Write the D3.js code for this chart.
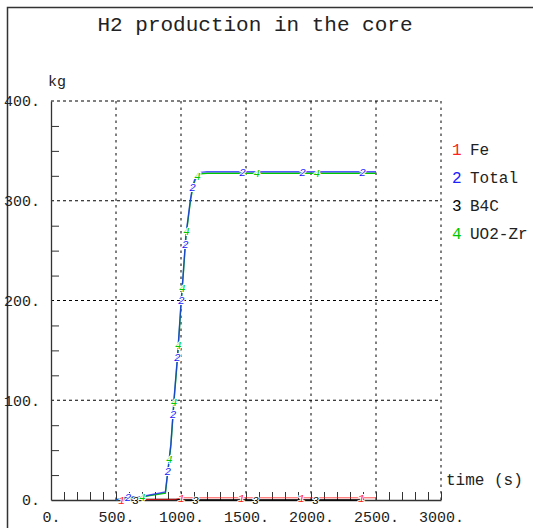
<!DOCTYPE html>
<html>
<head>
<meta charset="utf-8">
<script src="https://cdn.jsdelivr.net/npm/d3@7"></script>
<style>
  body { margin: 0; background: #fff; }
  svg { display: block; }
  text { font-family: "Liberation Mono", "DejaVu Sans Mono", monospace; }
</style>
</head>
<body>
<div id="chart"></div>
<script>
// values
const xTicks = [0, 500, 1000, 1500, 2000, 2500, 3000];
const yTicks = [0, 100, 200, 300, 400];

const feTime = [500, 700, 960, 1000, 2500];
const feVal = [0, 0.5, 0.7, 2.2, 2.2];

const totalTime = [500, 560, 700, 760, 880, 922, 948, 973, 1002, 1012, 1038, 1072, 1090, 1110, 1130, 1150, 1200, 2500];
const totalVal = [0, 2.5, 3.5, 5, 8, 56, 104, 144, 201, 218, 266, 301, 315, 323, 327, 328.5, 329, 329];

const b4cTime = [500, 700, 980, 1000, 2400];
const b4cVal = [0, 0.5, 0.5, 0, 0];

const uo2Time = [500, 560, 700, 760, 880, 922, 948, 973, 1002, 1012, 1038, 1072, 1090, 1110, 1130, 1150, 1200, 2500];
const uo2Val = [0, 2, 3, 4.5, 7, 54, 102, 142, 199, 216, 264, 299, 313, 321, 325.5, 327, 327.5, 327.5];

const seriesNames = ["Fe", "Total", "B4C", "UO2-Zr"];
const seriesColors = ["#ff2020", "#2020ff", "#000000", "#00c800"];

const W = 533, H = 528;
const svg = d3.select("#chart").append("svg")
    .attr("width", W)
    .attr("height", H);

// frame
svg.append("path")
    .attr("d", "M7.5,528V7.5H533")
    .attr("fill", "none")
    .attr("stroke", "#333")
    .attr("stroke-width", 1.5);

svg.append("text")
    .attr("x", 255)
    .attr("y", 31)
    .attr("text-anchor", "middle")
    .attr("font-size", 21)
    .attr("fill", "#222")
    .text("H2 production in the core");

const x = d3.scaleLinear().domain([0, 3000]).range([51, 441]);
const y = d3.scaleLinear().domain([0, 400]).range([500, 101]);

// dotted grid
svg.selectAll(".vgrid")
    .data(xTicks.slice(1))
    .enter()
    .append("line")
    .attr("x1", d => x(d)).attr("x2", d => x(d))
    .attr("y1", y(400)).attr("y2", y(0))
    .attr("stroke", "#000")
    .attr("stroke-dasharray", "2.5,4");

svg.selectAll(".hgrid")
    .data(yTicks.slice(1))
    .enter()
    .append("line")
    .attr("x1", x(0)).attr("x2", x(3000))
    .attr("y1", d => y(d)).attr("y2", d => y(d))
    .attr("stroke", "#000")
    .attr("stroke-dasharray", "3,3");

// axes
const xAxis = svg.append("g")
    .attr("transform", `translate(0,${y(0)})`)
    .call(d3.axisBottom(x).tickValues(xTicks).tickSize(0).tickPadding(8).tickFormat(d => d + "."));
const yAxis = svg.append("g")
    .attr("transform", `translate(${x(0)},0)`)
    .call(d3.axisLeft(y).tickValues(yTicks).tickSize(0).tickPadding(11).tickFormat(d => d + "."));

[xAxis, yAxis].forEach(g => {
    g.select(".domain").attr("stroke", "#333").attr("stroke-width", 1.3);
    g.selectAll("text")
        .attr("font-family", "Liberation Sans, sans-serif")
        .attr("font-size", 15)
        .attr("fill", "#222");
});
xAxis.selectAll("text").attr("dy", "0.9em");

// minor ticks
svg.append("g")
    .attr("transform", `translate(0,${y(0)})`)
    .call(d3.axisBottom(x).tickValues(d3.range(0, 3001, 100)).tickSize(-8).tickFormat(""))
    .call(g => g.select(".domain").remove())
    .selectAll("line").attr("stroke", "#333");
svg.append("g")
    .attr("transform", `translate(${x(0)},0)`)
    .call(d3.axisLeft(y).tickValues(d3.range(0, 401, 25).filter(v => v % 100 !== 0)).tickSize(-8).tickFormat(""))
    .call(g => g.select(".domain").remove())
    .selectAll("line").attr("stroke", "#333");

// axis titles
svg.append("text").attr("x", 48).attr("y", 86)
    .attr("font-size", 15).attr("fill", "#222").text("kg");
svg.append("text").attr("x", 446).attr("y", 485)
    .attr("font-size", 16).attr("fill", "#222").text("time (s)");

// curves
const series = [
    { t: feTime, v: feVal },
    { t: totalTime, v: totalVal },
    { t: b4cTime, v: b4cVal },
    { t: uo2Time, v: uo2Val }
];

const line = d3.line()
    .x(d => x(d[0]))
    .y(d => y(d[1]));

const drawOrder = [2, 0, 3, 1];
const paths = [];
drawOrder.forEach(i => {
    const s = series[i];
    paths[i] = svg.append("path")
        .datum(s.t.map((t, k) => [t, s.v[k]]))
        .attr("d", line)
        .attr("fill", "none")
        .attr("stroke", seriesColors[i])
        .attr("stroke-width", i === 0 ? 1 : 1.4)
        .attr("stroke-opacity", i === 1 ? 0.75 : (i === 0 ? 0.8 : 1));
});

// curve number markers, spaced evenly along each curve
series.forEach((s, i) => {
    const node = paths[i].node();
    const len = node.getTotalLength();
    let next = 5 + i * 6.6, dist = 0;
    let prev = node.getPointAtLength(0);
    for (let l = 0; l <= len; l += 0.5) {
        const p = node.getPointAtLength(l);
        dist += Math.hypot((p.x - prev.x) * 0.95, p.y - prev.y);
        prev = p;
        if (dist >= next) {
            svg.append("text")
                .attr("x", p.x)
                .attr("y", p.y + 4)
                .attr("text-anchor", "middle")
                .attr("font-family", "DejaVu Sans, sans-serif")
                .attr("font-style", "italic")
                .attr("font-size", 11)
                .attr("fill", seriesColors[i])
                .attr("stroke", "#fff")
                .attr("stroke-width", 2)
                .attr("paint-order", "stroke")
                .text(i + 1);
            next += 57;
        }
    }
});

// legend
const legend = svg.selectAll(".legend")
    .data(seriesNames)
    .enter()
    .append("g")
    .attr("transform", (d, i) => `translate(452,${155 + i * 28})`);
legend.append("text")
    .attr("font-size", 16)
    .attr("fill", (d, i) => seriesColors[i])
    .text((d, i) => i + 1);
legend.append("text")
    .attr("x", 18)
    .attr("font-size", 16)
    .attr("fill", "#222")
    .text(d => d);
</script>
</body>
</html>
